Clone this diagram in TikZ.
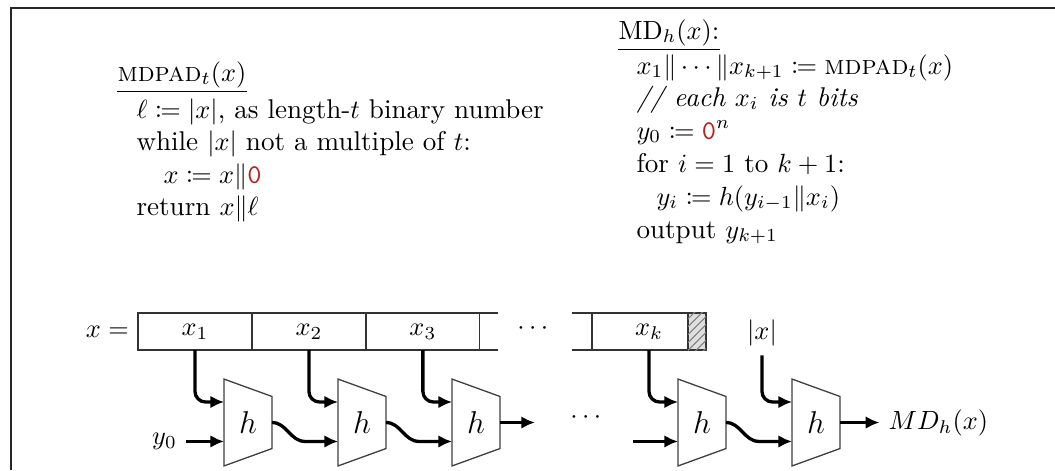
\documentclass[tikz,border=0pt]{standalone}
\usepackage{mathtools}
\usepackage{xcolor}
\usetikzlibrary{positioning, arrows.meta, patterns}
\definecolor{PadRed}{HTML}{B3221E}
\newcommand{\padbit}{\textcolor{PadRed}{\texttt{0}}}
\newcommand{\mdpad}{\textsc{mdpad}}

\begin{document}
\begin{tikzpicture}[x=0.38pt, y=-0.38pt,
  every node/.style={font=\fontsize{10.3}{12.4}\selectfont},
  algo/.style={anchor=base west, inner sep=0pt},
  cellbox/.style={draw=black!80, line width=0.45pt, minimum width=43.3pt, minimum height=14.1pt, inner sep=0pt, outer sep=0pt},
  hbox/.style={minimum width=18.2pt, minimum height=33pt, inner sep=0pt, outer sep=0pt, font=\fontsize{11.5}{13}\selectfont},
  trap/.style={draw=black!75, line width=0.5pt},
  arr/.style={-{Latex[length=5.2pt, width=4.8pt]}, line width=1.25pt},
  frame/.style={line width=0.7pt, black!85}]

  \useasboundingbox (0,0) rectangle (1055,470);
  \draw[frame] (11,470) -- (11,8) -- (1055,8);

  % padding
  \node[algo] (padtitle) at (117,81) {$\mdpad_t(x)$};
  \draw[line width=0.5pt] ([yshift=-1.4pt]padtitle.south west) -- ([yshift=-1.4pt]padtitle.south east);
  \node[algo] (pad1) at (136,118) {$\ell \coloneqq |x|$, as length-$t$ binary number};
  \node[algo] (pad2) at (136,150) {while $|x|$ not a multiple of $t$:};
  \node[algo] (pad3) at (163,183) {$x \coloneqq x\|\padbit$};
  \node[algo] (pad4) at (136,215) {return $x\|\ell$};

  % Merkle-Damgard
  \node[algo] (mdtitle) at (618,39) {$\mathrm{MD}_h(x)$:};
  \draw[line width=0.5pt] ([yshift=-1.2pt]mdtitle.south west) -- ([yshift=-1.2pt]mdtitle.south east);
  \node[algo] (md1) at (636,74) {$x_1\|\cdots\|x_{k+1} \coloneqq \mdpad_t(x)$};
  \node[algo] (md2) at (636,106) {\textit{// each $x_i$ is $t$ bits}};
  \node[algo] (md3) at (636,139) {$y_0 \coloneqq {\padbit}^n$};
  \node[algo] (md4) at (636,172) {for $i = 1$ to $k+1$:};
  \node[algo] (md5) at (656,205) {$y_i \coloneqq h(y_{i-1}\|x_i)$};
  \node[algo] (md6) at (636,238) {output $y_{k+1}$};

  % blocks of x
  \node[cellbox] (c1) at (195,331.5) {$x_1$};
  \node[cellbox, right=0pt of c1] (c2) {$x_2$};
  \node[cellbox, right=0pt of c2] (c3) {$x_3$};
  \node[cellbox] (ck) at (649,331.5) {$x_k$};
  \node[cellbox, anchor=east, minimum width=6.8pt, line width=0.8pt, fill=gray!25,
        postaction={pattern=north east lines, pattern color=gray}] (tail) at (ck.east) {};
  \draw[black!80, line width=0.45pt] (c3.north east) -- ++(18,0) (c3.south east) -- ++(18,0)
    (ck.north west) -- ++(-20,0) (ck.south west) -- ++(-20,0);
  \node[left=0pt of c1] (xeq) {$x =$};
  \node (rowdots) at (535,329) {$\cdots$};
  \node (lenx) at (762,333) {$|x|$};

  % compression function
  \foreach \n/\x in {h1/248, h2/362, h3/476, h4/702, h5/816} {
    \node[hbox] (\n) at (\x,422.5) {$h$};
    \draw[trap] (\n.north west) -- ([yshift=-6.6pt]\n.north east) -- ([yshift=6.6pt]\n.south east) -- (\n.south west) -- cycle;
    \coordinate (in\n) at ([yshift=-7.2pt]\n.west);
  }
  \node (chaindots) at (588,418) {$\cdots$};

  \foreach \c/\n in {c1/h1, c2/h2, c3/h3, ck/h4, lenx/h5}
    \draw[arr, rounded corners=4pt] (\c.south) |- ([yshift=7.8pt]\n.west);

  \node[left=14.4pt of inh1] (y0) {$y_0$};
  \draw[arr] (y0) -- (inh1);
  \foreach \a/\b in {h1/h2, h2/h3, h4/h5}
    \draw[arr] (\a.east) to[out=0, in=180] ([xshift=-12.5pt]in\b) -- (in\b);
  \coordinate[right=13.3pt of h3.east] (gap);
  \draw[arr] (h3.east) -- (gap);
  \coordinate[left=17pt of inh4] (resume);
  \draw[arr] (resume) -- (inh4);
  \node[right=15pt of h5.east] (mdout) {$MD_h(x)$};
  \draw[arr] (h5.east) -- (mdout);
\end{tikzpicture}
\end{document}
